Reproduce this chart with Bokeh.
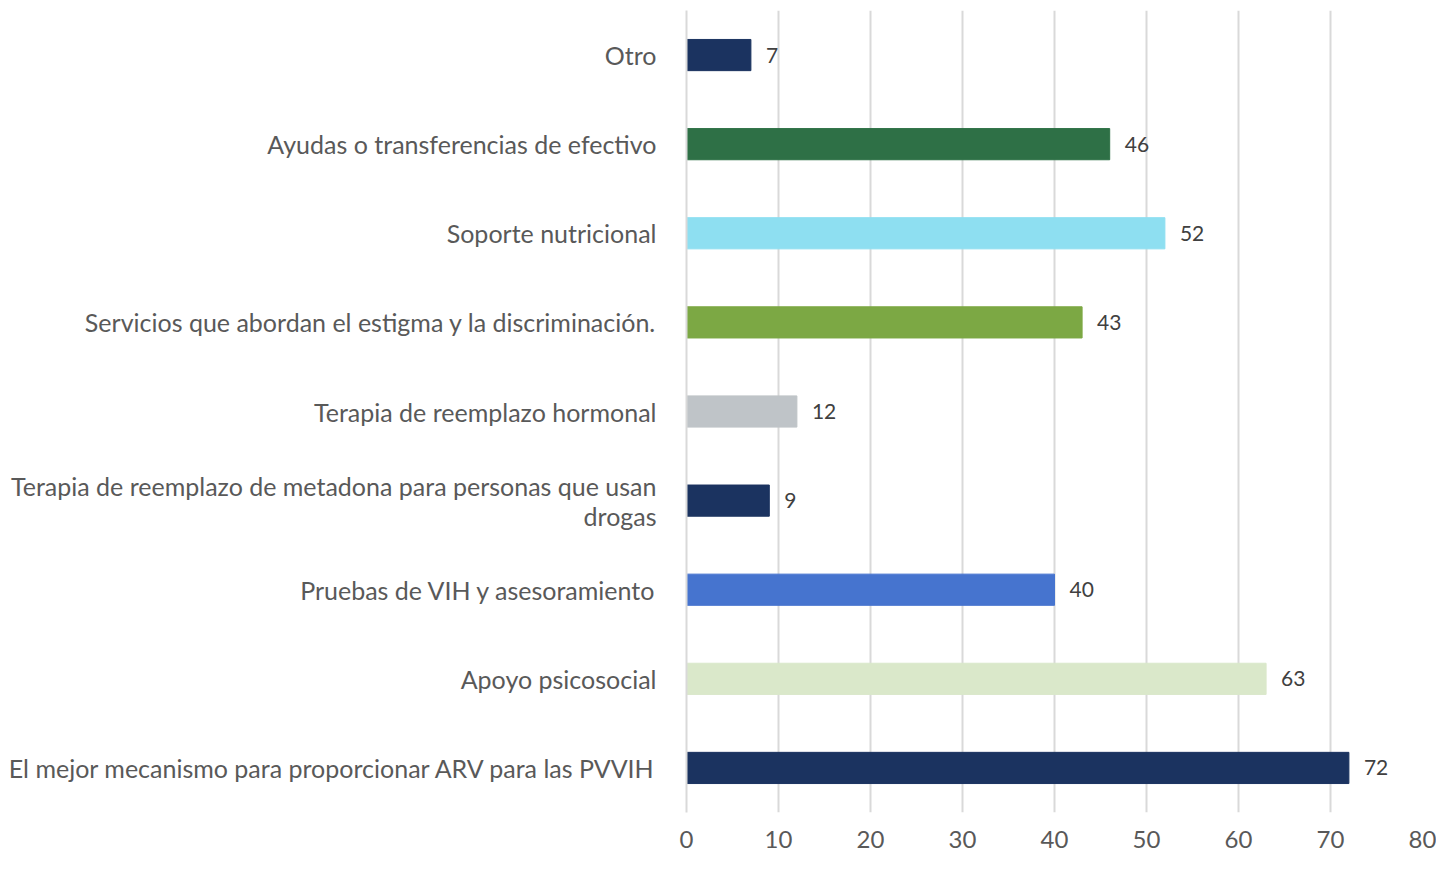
from bokeh.plotting import figure
from bokeh.models import ColumnDataSource, Range1d, FixedTicker
from bokeh.core.properties import value
from bokeh.embed import file_html
from bokeh.resources import INLINE

categories = [
    "El mejor mecanismo para proporcionar ARV para las PVVIH",
    "Apoyo psicosocial",
    "Pruebas de VIH y asesoramiento",
    "Terapia de reemplazo de metadona para personas que usan\ndrogas",
    "Terapia de reemplazo hormonal",
    "Servicios que abordan el estigma y la discriminación.",
    "Soporte nutricional",
    "Ayudas o transferencias de efectivo",
    "Otro",
]
values = [72, 63, 40, 9, 12, 43, 52, 46, 7]
colors = ["#1B3360", "#DAE8CA", "#4674CF", "#1B3360", "#BFC4C8",
          "#7CA844", "#8EDFF1", "#2E7046", "#1B3360"]
x_ticks = [0, 10, 20, 30, 40, 50, 60, 70, 80]

FONT = "Lato"

src = ColumnDataSource(dict(cat=categories, val=values, color=colors,
                            lab=[str(v) for v in values]))

p = figure(width=1436, height=856, y_range=categories, x_range=Range1d(0, 80),
           output_backend="svg", toolbar_location=None,
           min_border_left=686, min_border_right=14, min_border_top=10, min_border_bottom=44)

p.hbar(y="cat", right="val", left=0, height=0.35, color="color", source=src)
p.text(x="val", y="cat", text="lab", source=src, x_offset=15,
       text_baseline="middle", text_align="left", text_color="#404040",
       text_font=value(FONT), text_font_size="21px")

p.outline_line_color = None
p.ygrid.grid_line_color = None
p.xgrid.grid_line_color = "#D9D9D9"
p.xgrid.grid_line_width = 2
p.xaxis.ticker = FixedTicker(ticks=x_ticks)
p.xaxis.axis_line_color = None
p.xaxis.major_tick_line_color = None
p.xaxis.minor_tick_line_color = None
p.xaxis.major_label_standoff = 12
p.xaxis.major_label_text_font = FONT
p.xaxis.major_label_text_font_size = "24px"
p.xaxis.major_label_text_color = "#595959"

p.yaxis.axis_line_color = "#D9D9D9"
p.yaxis.axis_line_width = 2
p.yaxis.major_tick_line_color = None
p.yaxis.minor_tick_line_color = None
p.yaxis.major_label_standoff = 24
p.yaxis.major_label_text_font = FONT
p.yaxis.major_label_text_font_size = "25px"
p.yaxis.major_label_text_line_height = 1.0
p.yaxis.major_label_text_color = "#595959"

open("out.html", "w").write(file_html(p, INLINE))
